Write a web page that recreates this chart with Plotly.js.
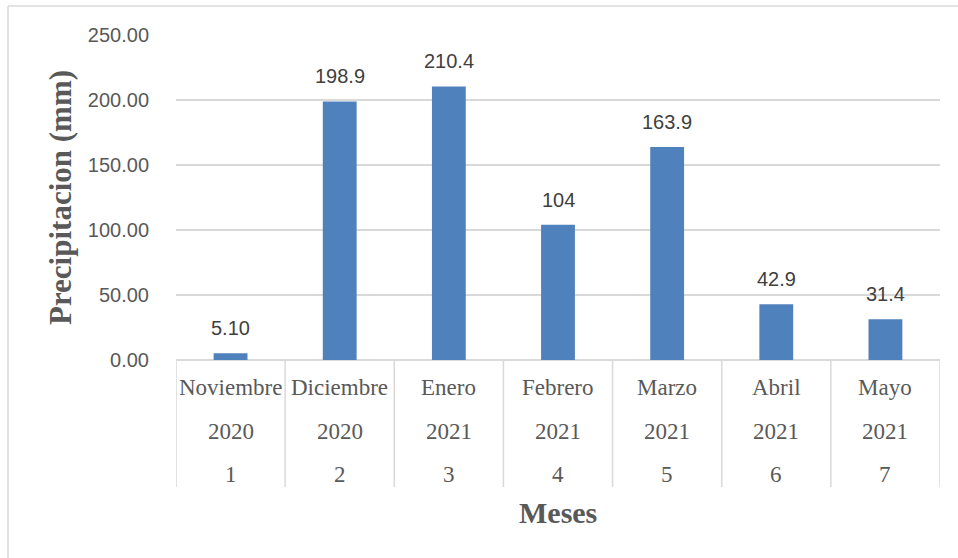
<!DOCTYPE html>
<html>
<head>
<meta charset="utf-8">
<script src="https://cdn.plot.ly/plotly-3.0.1.min.js"></script>
<style>html,body{margin:0;padding:0;background:#fff;}#chart{width:958px;height:558px;}</style>
</head>
<body>
<div id="chart"></div>
<script>
const months = ["Noviembre", "Diciembre", "Enero", "Febrero", "Marzo", "Abril", "Mayo"];
const years = ["2020", "2020", "2021", "2021", "2021", "2021", "2021"];
const monthNums = ["1", "2", "3", "4", "5", "6", "7"];
const precipitation = [5.10, 198.9, 210.4, 104, 163.9, 42.9, 31.4];
const dataLabels = ["5.10", "198.9", "210.4", "104", "163.9", "42.9", "31.4"];

const cats = monthNums;
const labelGray = "#595959";
const gridGray = "#d9d9d9";

const annotations = [];
// data labels (x given as category index)
cats.forEach((c, i) => {
  annotations.push({
    x: i, y: precipitation[i], xref: "x", yref: "y",
    text: dataLabels[i], showarrow: false, yanchor: "bottom", yshift: 12,
    font: {family: "Liberation Sans, Arial, sans-serif", size: 20, color: "#404040"}
  });
});
// multi-level category labels
const rows = [months, years, monthNums];
const rowY = [-0.0831, -0.2185, -0.3538];
rows.forEach((row, r) => {
  row.forEach((txt, i) => {
    annotations.push({
      x: i, y: rowY[r], xref: "x", yref: "paper",
      text: txt, showarrow: false, yanchor: "middle", xanchor: "center",
      font: {family: "Liberation Serif, Times New Roman, serif", size: 23, color: labelGray}
    });
  });
});
// x axis title
annotations.push({
  x: 0.5, y: -0.4677, xref: "paper", yref: "paper", text: "<b>Meses</b>",
  showarrow: false, yanchor: "middle",
  font: {family: "Liberation Serif, Times New Roman, serif", size: 30, color: labelGray}
});

const shapes = [];
for (let k = 0; k <= cats.length; k++) {
  shapes.push({
    type: "line", xref: "x", yref: "paper",
    x0: k - 0.5, x1: k - 0.5, y0: 0, y1: -0.3908,
    line: {color: gridGray, width: 1.5}
  });
}
// outer chart border (top and left)
shapes.push({type: "line", xref: "paper", yref: "paper", x0: -0.2199, x1: 1.05, y0: 1.0892, y1: 1.0892, line: {color: gridGray, width: 1.5}});
shapes.push({type: "line", xref: "paper", yref: "paper", x0: -0.2199, x1: -0.2199, y0: 1.0892, y1: -0.7, line: {color: gridGray, width: 1.5}});

const trace = {
  type: "bar", x: cats, y: precipitation,
  marker: {color: "#4f81bd"}, width: 0.31,
  hoverinfo: "skip"
};

const layout = {
  width: 958, height: 558,
  margin: {l: 176, r: 18, t: 35, b: 198},
  paper_bgcolor: "#ffffff", plot_bgcolor: "#ffffff",
  showlegend: false,
  xaxis: {
    type: "category", range: [-0.5, 6.5], showticklabels: false,
    showgrid: false, zeroline: false, showline: false, ticks: ""
  },
  yaxis: {
    range: [0, 250], dtick: 50, tick0: 0, tickformat: ".2f",
    showgrid: true, gridcolor: gridGray, gridwidth: 1.5,
    zeroline: true, zerolinecolor: gridGray, zerolinewidth: 1.5,
    showline: false, ticks: "outside", ticklen: 22, tickcolor: "rgba(0,0,0,0)",
    tickfont: {family: "Liberation Sans, Arial, sans-serif", size: 20, color: labelGray},
    title: {
      text: "<b>Precipitacion (mm)</b>", standoff: 6,
      font: {family: "Liberation Serif, Times New Roman, serif", size: 31, color: labelGray}
    }
  },
  annotations: annotations,
  shapes: shapes
};

Plotly.newPlot("chart", [trace], layout, {staticPlot: true, displayModeBar: false});
</script>
</body>
</html>
